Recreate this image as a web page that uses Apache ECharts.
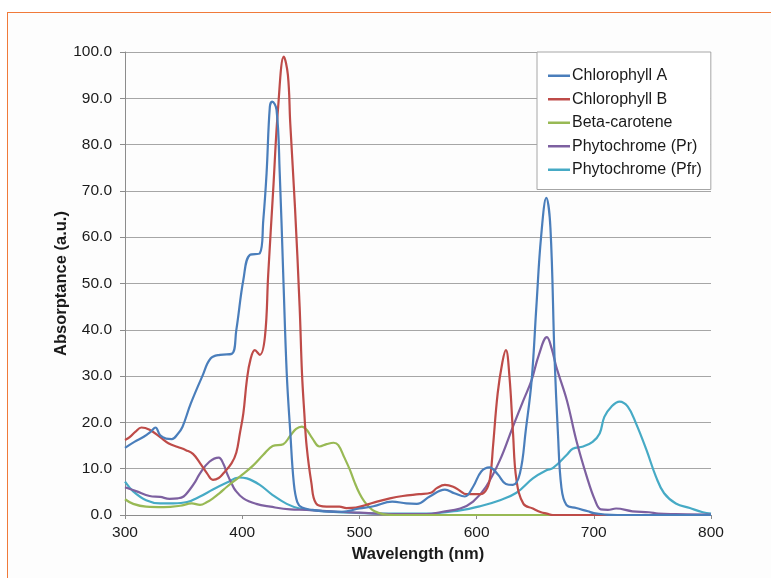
<!DOCTYPE html>
<html>
<head>
<meta charset="utf-8">
<script src="https://cdn.jsdelivr.net/npm/echarts@6/dist/echarts.min.js"></script>
<style>
  html, body { margin: 0; padding: 0; background: #fff; }
  #frame {
    position: absolute; left: 7px; top: 12px; width: 820px; height: 620px;
    border: 1.5px solid #f07a3a; background: #fdfdfd;
  }
  #chart { position: absolute; left: 0; top: 0; width: 771px; height: 578px; }
</style>
</head>
<body>
<div id="frame"></div>
<div id="chart"></div>
<script>
/* -------------------------------------------------------------------------- */
/*                         Pigment absorption spectra                         */
/* -------------------------------------------------------------------------- */

const seriesNames = [
  'Chlorophyll A',
  'Chlorophyll B',
  'Beta-carotene',
  'Phytochrome (Pr)',
  'Phytochrome (Pfr)'
];

// [wavelength nm, absorptance]
const chlorophyllA = [
  [300, 14.5], [308, 15.8], [316, 16.9], [322, 18], [326, 18.9], [330, 17.2],
  [335, 16.5], [340, 16.4], [345, 17.5], [349, 19], [356, 24], [366, 30],
  [373, 33.8], [381, 34.6], [391, 34.8], [395, 40], [401, 50.8], [406.6, 56.2],
  [415, 56.5], [418, 63.7], [420.8, 73.8], [423.6, 88.2], [425.5, 89.3],
  [429.3, 87.5], [432, 74], [435, 52], [438, 30.6], [441, 18], [444, 7],
  [447, 2.8], [451, 1.6], [460, 1.1], [470, 0.8], [485, 0.7], [500, 1.4],
  [512, 1.9], [528, 2.9], [540, 2.5], [549, 2.4], [560, 4.0], [573, 5.5],
  [581, 4.7], [590, 4.0], [597, 6.1], [604, 9.4], [611, 10.3], [618, 8.8],
  [625, 6.7], [631, 6.5], [637, 9.0], [642, 18.4], [647, 29.2], [651, 45],
  [655, 60], [659.5, 68.5], [663, 62], [666.5, 34], [669.4, 17.6], [672.3, 6.1],
  [676.6, 2.2], [685, 1.5], [695, 0.8], [700, 0.4], [710, 0.1], [720, 0], [800, 0]
];

const chlorophyllB = [
  [300, 16.2], [304, 16.8], [309, 18], [314, 18.9], [321, 18.4], [330, 16.8],
  [337, 15.5], [345, 14.7], [352, 14], [358, 13.2], [364, 11.2], [370, 9],
  [375, 7.6], [380, 8], [384, 9], [391, 11.2], [395, 13.5], [398, 17.6],
  [401, 22], [404, 29.2], [407, 33.5], [410.8, 35.6], [415, 34.6], [419.4, 38.5],
  [422.2, 52], [426.4, 70], [430.7, 88.2], [435.5, 99], [439, 95], [441, 84.6],
  [445, 66.6], [449, 45], [451, 30.7], [453, 22], [455, 14.8], [459, 7],
  [463, 2.5], [472, 1.8], [483, 1.8], [489, 1.5], [497, 1.6], [506, 2.2],
  [515, 2.9], [526, 3.6], [537, 4.1], [551, 4.5], [561, 4.8], [566, 5.8],
  [573, 6.5], [580, 6.1], [586, 5.2], [591, 4.5], [603, 4.5], [609, 5.8],
  [612, 9], [614, 14.8], [618, 26.3], [622, 33], [625, 35.6], [628, 30],
  [631, 18], [634, 7.6], [640, 2.4], [648, 1.4], [655, 0.6], [660, 0.3],
  [665, 0], [800, 0]
];

const betaCarotene = [
  [300, 3.4], [307, 2.4], [318, 1.8], [333, 1.7], [347, 2], [357, 2.5],
  [364, 2.2], [370, 2.8], [375, 3.6], [381, 4.8], [387, 6.1], [398, 8.3],
  [409, 10.6], [418, 13], [426, 14.9], [435, 15.3], [441, 17.1], [446, 18.6],
  [451, 19.1], [455, 18.4], [460, 16.5], [466, 14.8], [472, 15.3], [478, 15.6],
  [482, 15.1], [487, 12.5], [492, 9.7], [496, 7], [500, 4.7], [504, 3],
  [508, 1.8], [513, 0.8], [520, 0.2], [530, 0], [800, 0]
];

const phytochromePr = [
  [300, 6], [310, 5.1], [321, 4.1], [330, 3.9], [338, 3.5], [345, 3.6],
  [350, 4], [355, 5.4], [360, 7.2], [364, 9], [372, 11.5], [380, 12.4],
  [384, 11], [387, 9], [391, 6.8], [394, 5.4], [401, 3.6], [412, 2.4],
  [424, 1.8], [441, 1.2], [455, 1.1], [481, 0.7], [500, 0.5], [529, 0.2],
  [557, 0.2], [571, 0.7], [586, 1.4], [597, 2.9], [608, 6.1], [620, 11.9],
  [631, 19.1], [640, 24.8], [647, 29.2], [653, 34.5], [660, 38.4], [664, 36],
  [668, 32], [677, 24.8], [685, 16.2], [694, 8.3], [701, 3.2], [706, 1.2],
  [712, 1.1], [719, 1.4], [733, 0.8], [747, 0.6], [755, 0.3], [770, 0.2],
  [800, 0.1]
];

const phytochromePfr = [
  [300, 7.2], [307, 5.1], [318, 3.2], [330, 2.5], [341, 2.5], [353, 2.8],
  [364, 4], [375, 5.5], [387, 7], [397, 8.1], [404, 7.9], [415, 6.5],
  [426, 4.3], [438, 2.4], [449, 1.4], [466, 0.9], [493, 0.5], [520, 0.3],
  [557, 0.3], [586, 1], [603, 1.9], [620, 3.2], [634, 4.8], [648, 7.9],
  [660, 9.7], [665, 10.1], [677, 13], [682, 14.3], [691, 14.8], [699, 15.8],
  [705, 17.6], [709, 21.2], [715, 23.4], [722, 24.5], [729, 23.4], [736, 19.8],
  [745, 14], [753, 8.3], [760, 4.7], [770, 2.5], [782, 1.5], [793, 0.6],
  [800, 0.3]
];

const seriesData = [chlorophyllA, chlorophyllB, betaCarotene, phytochromePr, phytochromePfr];
const colors = ['#4a7ebb', '#be4b48', '#98b954', '#7d60a0', '#46aac5'];

const $chartEl = document.getElementById('chart');
const chart = echarts.init($chartEl);

const labelFont = {
  color: '#1a1a1a',
  fontFamily: 'Liberation Sans, Arial',
  fontSize: 15.5
};

chart.setOption({
  animation: false,
  color: colors,
  grid: { left: 125, right: 60, top: 52, bottom: 63 },
  legend: {
    orient: 'vertical',
    left: 537,
    top: 52,
    padding: [15, 9, 11, 11],
    itemGap: 6,
    itemWidth: 22,
    itemHeight: 2.5,
    icon: 'rect',
    backgroundColor: '#fff',
    borderColor: '#a6a6a6',
    borderWidth: 1,
    textStyle: { ...labelFont, fontSize: 16, lineHeight: 17.5, padding: [0, 0, 0, -3] },
    data: seriesNames
  },
  xAxis: {
    type: 'value',
    min: 300,
    max: 800,
    interval: 100,
    name: 'Wavelength (nm)',
    nameLocation: 'middle',
    nameGap: 31,
    nameMoveOverlap: false,
    nameTextStyle: { ...labelFont, fontSize: 16.5, fontWeight: 'bold' },
    axisLine: { show: true, lineStyle: { color: '#8c8c8c' } },
    axisTick: { show: true, length: 4, lineStyle: { color: '#8c8c8c' } },
    axisLabel: { ...labelFont, margin: 10 },
    splitLine: { show: false }
  },
  yAxis: {
    type: 'value',
    min: 0,
    max: 100,
    interval: 10,
    name: 'Absorptance (a.u.)',
    nameLocation: 'middle',
    nameGap: 55,
    nameMoveOverlap: false,
    nameTextStyle: { ...labelFont, fontSize: 16.5, fontWeight: 'bold' },
    axisLine: { show: true, lineStyle: { color: '#8c8c8c' } },
    axisTick: { show: true, length: 5, lineStyle: { color: '#8c8c8c' } },
    axisLabel: { ...labelFont, margin: 13, formatter: v => v.toFixed(1) },
    splitLine: { lineStyle: { color: '#a6a6a6', width: 1 } }
  },
  series: seriesNames.map((name, i) => ({
    name,
    type: 'line',
    data: seriesData[i],
    symbol: 'none',
    smooth: 0.4,
    lineStyle: { width: 2.2, color: colors[i] },
    z: 5 - i
  }))
});
</script>
</body>
</html>
